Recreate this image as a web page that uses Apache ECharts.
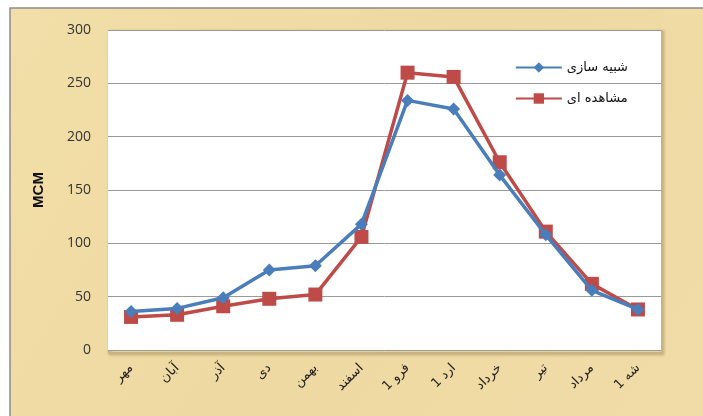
<!DOCTYPE html>
<html><head><meta charset="utf-8">
<script src="https://cdn.jsdelivr.net/npm/echarts@6/dist/echarts.min.js"></script>
<style>html,body{margin:0;padding:0;background:#fff;}#c{width:703px;height:416px;}</style>
</head><body><div id="c"></div>
<script>
const categories = ['مهر','آبان','آذر','دی','بهمن','اسفند','فرو 1','ارد 1','خرداد','تیر','مرداد','شه 1'];
const simulated = [36, 39, 49, 75, 79, 118, 234, 226, 164, 108, 56, 38];
const observed = [31, 33, 41, 48, 52, 106, 260, 256, 176, 111, 62, 38];
const seriesNames = ['شبیه سازی', 'مشاهده ای'];
const yTicks = {min: 0, max: 300, interval: 50};

const chart = echarts.init(document.getElementById('c'));
chart.setOption({
  backgroundColor: '#ffffff',
  graphic: [{
    type: 'rect', z: -10,
    shape: {x: 10, y: 8, width: 700, height: 420},
    style: {
      fill: {type: 'linear', x: 0, y: 0, x2: 1, y2: 1, colorStops: [
        {offset: 0, color: '#f2dea8'}, {offset: 0.5, color: '#efd9a2'}, {offset: 1, color: '#f1dca8'}]},
      stroke: '#8c8c8c', lineWidth: 1.5
    }
  }, {
    type: 'rect', z: -5,
    shape: {x: 109, y: 31, width: 553, height: 322},
    style: {fill: 'rgba(0,0,0,0)', stroke: '#c8b480', lineWidth: 2, shadowBlur: 3, shadowColor: 'rgba(90,70,20,0.4)', shadowOffsetX: 1, shadowOffsetY: 1}
  }],
  grid: {left: 108, right: 42, top: 30, bottom: 66, show: true, backgroundColor: '#ffffff', borderWidth: 0},
  legend: {
    right: 70, top: 56, orient: 'vertical', itemGap: 18, itemWidth: 46, itemHeight: 13,
    align: 'left',
    textStyle: {fontFamily: 'DejaVu Sans', fontSize: 13, color: '#111'},
    data: seriesNames
  },
  xAxis: {
    type: 'category', data: categories, boundaryGap: true,
    axisLine: {show: false}, axisTick: {show: false},
    axisLabel: {rotate: 45, margin: 16, fontFamily: 'DejaVu Sans', fontSize: 13, color: '#222', interval: 0}
  },
  yAxis: {
    type: 'value', min: yTicks.min, max: yTicks.max, interval: yTicks.interval,
    name: 'MCM', nameLocation: 'middle', nameGap: 62, nameRotate: 90,
    nameTextStyle: {fontFamily: 'Liberation Sans', fontWeight: 'bold', fontSize: 15, color: '#111'},
    axisLine: {show: false}, axisTick: {show: false},
    axisLabel: {fontFamily: 'Open Sans', fontSize: 14, color: '#333', margin: 17},
    splitLine: {lineStyle: {color: '#9a9a9a', width: 1}}
  },
  series: [{
    name: seriesNames[0], type: 'line', data: simulated,
    symbol: 'diamond', symbolSize: 13,
    lineStyle: {color: '#4a7ebb', width: 3.5},
    itemStyle: {color: '#4a7ebb'}, z: 3
  }, {
    name: seriesNames[1], type: 'line', data: observed,
    symbol: 'rect', symbolSize: 14,
    lineStyle: {color: '#be4b48', width: 3.5},
    itemStyle: {color: '#be4b48'}, z: 2
  }]
});
</script></body></html>
